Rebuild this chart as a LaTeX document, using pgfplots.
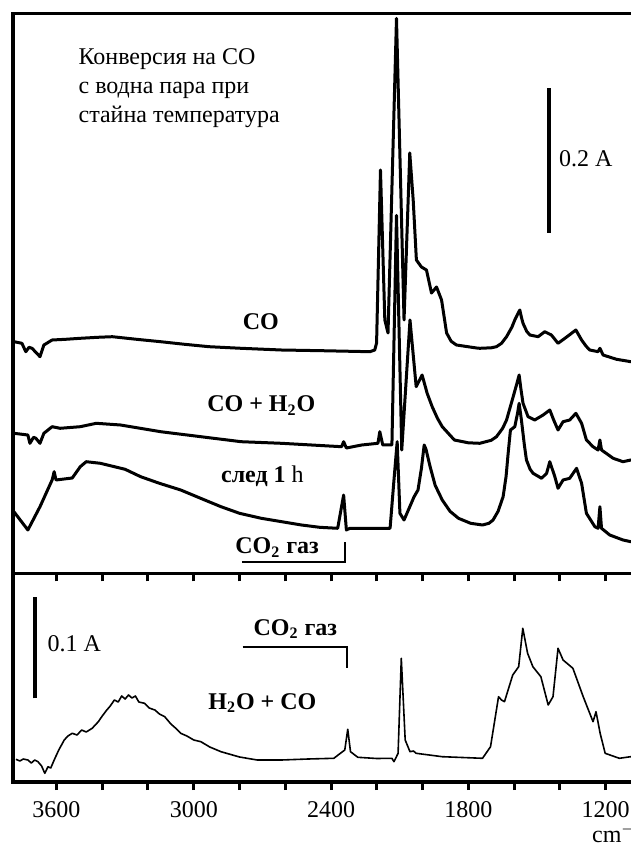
\documentclass[border=0pt]{standalone}
\usepackage{fontspec}
\setmainfont{Liberation Serif}
\usepackage{pgfplots}
\pgfplotsset{compat=1.18}
\begin{document}
\begin{tikzpicture}
\useasboundingbox (0,0) rectangle (315.5pt,421.5pt);
\clip (0,0) rectangle (315.5pt,421.5pt);
\pgfplotsset{
 spec/.style={scale only axis, width=319.2pt, x dir=reverse, xmin=1000, xmax=3790,
   axis line style={line width=1.6pt}, ytick=\empty,
   xtick={1200,1800,2400,3000,3600}, minor x tick num=2,
   tick align=outside, xtick pos=bottom,
   major tick length=4pt, minor tick length=4pt,
   every tick/.style={line width=1.5pt, black},
   /pgf/number format/assume math mode=true,
   /pgf/number format/1000 sep={},
   tick label style={font=\fontsize{12}{14}\selectfont},
   xticklabel style={yshift=-2pt},
   clip=true}
}
% ---------------- top panel ----------------
\begin{axis}[spec, at={(6.5pt,134.85pt)}, anchor=south west, height=279.9pt,
  ymin=0, ymax=559.8, xticklabels=\empty]
% CO
\addplot[black, line width=1.5pt, line join=round] coordinates {
(3786,231.6)(3751,230)(3734,221.6)(3720,226)(3707,225)(3690,221)(3672,216.6)(3655,228.3)(3619,233.3)
(3560,234)(3496,235)(3420,236)(3356,236.6)(3250,234)(3145,231.6)(3040,229)(2933,226.6)(2793,225)(2617,223.3)
(2441,222.6)(2230,221.6)(2209,223.3)(2201,230.3)(2184,403.3)(2165,253.3)(2151,240.3)(2114,555)(2081,253.3)
(2056,420.3)(2041,373.3)(2027,313.3)(2005,306.3)(1983,303.3)(1961,280.3)(1939,286.3)(1917,273.3)(1895,240.3)
(1875,232)(1852,228.3)(1764,225.3)(1750,225)(1700,225.5)(1677,226.6)(1655,230)(1633,236.6)(1610,246)
(1597,253.3)(1585,259)(1575,263.3)(1568,256)(1561,250)(1545,242)(1531,238.3)
(1495,236.6)(1466,241.6)(1437,238.3)(1408,230)(1378,235)(1330,243.3)(1305,233.3)(1285,227)(1269,223.3)(1233,221.6)
(1225,225)(1211,218.3)(1180,216)(1152,214)(1090,211.6)(1000,209)
};
% CO + H2O
\addplot[black, line width=1.5pt, line join=round] coordinates {
(3786,140)(3725,138.3)(3716,130)(3700,136)(3690,135)(3672,130)(3655,140)(3619,146.6)(3584,145)(3496,146.6)
(3426,150)(3320,148.3)(3145,141.6)(2969,136.6)(2793,131.6)(2617,130)(2354,126.6)(2345,131.6)(2333,125.3)
(2266,128.3)(2195,130)(2187,141.6)(2174,128.3)(2151,128.3)(2134,128.3)(2114,358)(2091,123.3)(2055,253.3)
(2028,186.6)(2002,198.3)(1980,180)(1958,166.6)(1935,155)(1914,146.6)(1861,133.3)(1800,130.5)(1750,130)
(1700,133)(1677,136.6)(1650,145)(1633,153.3)(1604,176.6)(1590,188)
(1578,198.3)(1570,184)(1561,170)(1539,156.6)(1510,153.3)(1473,158.3)(1444,163.3)(1427,153.3)(1408,143.3)(1386,151.6)
(1357,153.3)(1330,160)(1305,150)(1284,133.3)(1255,126.6)(1233,123.3)(1225,133.3)(1218,123.3)(1167,115)
(1124,111.6)(1090,113.3)(1000,113)
};
% after 1 h
\addplot[black, line width=1.5pt, line join=round] coordinates {
(3786,61.6)(3725,43.3)(3672,66.6)(3619,93.3)(3610,101.6)(3602,93.3)(3531,95.3)(3496,106.6)(3470,111.6)
(3408,110)(3300,104)(3232,96.6)(3150,90)(3057,83.3)(2970,75)(2881,66.6)(2800,60)(2705,55)(2600,51)(2529,48.3)
(2450,46)(2371,45)(2345,78.3)(2333,43.3)(2318,45)
(2142,45)(2125,93.3)(2111,131.6)(2099,60)(2081,53.3)(2037,76.6)(2020,83.3)(2005,105)(1993,128.3)(1985,124)
(1967,106.6)(1945,88)(1914,73.3)(1880,62)(1843,55)(1790,50)(1738,48.3)(1710,50)(1692,53.3)(1670,62)(1648,76.6)
(1635,97)(1626,120)(1616,143.3)(1597,146.6)(1585,160)(1578,170)
(1568,153.3)(1555,128)(1546,113.3)(1530,104)(1517,100)(1480,95)(1458,100)(1444,111.6)(1422,96.6)(1408,85)(1386,93.3)
(1357,95)(1327,105)(1305,90)(1284,60)(1247,46.6)(1233,45)(1225,66.6)(1218,45)(1182,38.3)(1124,33.3)
(1090,31.6)(1000,30)
};
\draw[line width=0.8pt] (axis cs:2790,11.3) -- (axis cs:2340,11.3) -- (axis cs:2340,31.3);
\draw[line width=2pt] (axis cs:1448,340.3) -- (axis cs:1448,485.3);
\node[anchor=west, inner sep=0pt, font=\fontsize{12}{14}\selectfont] at (axis cs:1405,415) {0.2 A};
\node[anchor=north west, inner sep=0pt, align=left, font=\fontsize{12}{14.5}\selectfont]
  at (axis cs:3505,525) {Конверсия на СО\\с водна пара при\\стайна температура};
\node[font=\bfseries\fontsize{12}{14}\selectfont] at (axis cs:2707,252) {CO};
\node[font=\bfseries\fontsize{12}{14}\selectfont] at (axis cs:2705,168) {CO + H\textsubscript{2}O};
\node[font=\fontsize{12}{14}\selectfont] at (axis cs:2700,97) {\textbf{след 1} h};
\node[font=\bfseries\fontsize{12}{14}\selectfont] at (axis cs:2636,25.8) {CO\textsubscript{2} газ};
\end{axis}
% ---------------- bottom panel ----------------
\begin{axis}[spec, at={(6.5pt,30.5pt)}, anchor=south west, height=104.35pt,
  ymin=0, ymax=208.7]
\addplot[black, line width=0.8pt, line join=round] coordinates {
(3777,22.7)(3760,21)(3745,23)(3725,22)(3710,19)(3695,22)(3681,20.3)(3665,16)(3651,8.7)(3637,15.3)(3625,14)
(3610,22)(3590,32)(3566,42)(3550,46)(3531,48.7)(3510,47)(3490,52)(3470,50)(3444,53.7)(3417,60.3)(3400,66)
(3380,72)(3365,76)(3347,82)(3330,80)(3315,86)(3300,83)(3285,87)(3270,84)(3255,86)(3240,80)(3215,78.7)
(3195,74)(3170,72)(3150,68)(3127,65.3)(3100,58)(3080,54)(3057,48.7)(3030,46)(3000,42)(2969,40.3)(2930,35)
(2881,30.3)(2800,25)(2723,22)(2617,22)(2500,23)(2388,23.7)(2340,32)(2327,52.7)(2315,30.3)(2283,24.7)
(2200,23.5)(2134,23.7)(2125,20.3)(2107,28.7)(2093,123.7)(2076,42)(2055,30.3)(2040,31)(2028,28.7)(1914,25.3)
(1738,23.7)(1703,35.3)(1668,85.3)(1655,82)(1642,80.3)(1606,107)(1580,115.3)(1562,153.7)(1541,128.7)
(1518,115.3)(1483,105.3)(1451,77)(1430,85.3)(1408,133.7)(1386,122)(1343,113.7)(1298,85.3)(1255,60.3)
(1242,70.3)(1224,48.7)(1202,28.7)(1140,23.7)(1091,25.3)(1000,25)
};
\draw[line width=0.8pt] (axis cs:2786,135) -- (axis cs:2331,135) -- (axis cs:2331,114);
\draw[line width=2pt] (axis cs:3693,83.7) -- (axis cs:3693,185.3);
\node[anchor=west, inner sep=0pt, font=\fontsize{12}{14}\selectfont] at (axis cs:3640,138.7) {0.1 A};
\node[font=\bfseries\fontsize{12}{14}\selectfont] at (axis cs:2556,153) {CO\textsubscript{2} газ};
\node[font=\bfseries\fontsize{12}{14}\selectfont] at (axis cs:2700,79) {H\textsubscript{2}O + CO};
\end{axis}
\node[anchor=base west, inner sep=0pt, font=\fontsize{12}{14}\selectfont] at (295.85pt,0.5pt) {cm\textsuperscript{$-1$}};
\end{tikzpicture}
\end{document}
